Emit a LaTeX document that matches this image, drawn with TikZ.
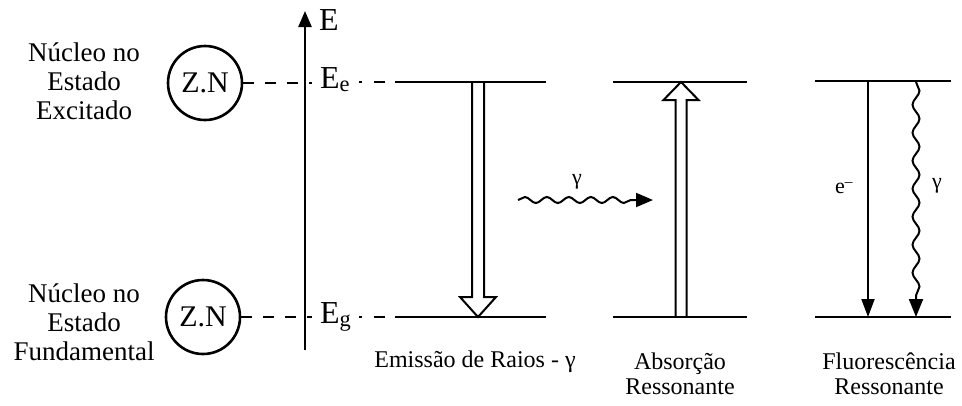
\documentclass[tikz,border=0pt]{standalone}
\usepackage{fontspec}
\setmainfont{Liberation Serif}
\usetikzlibrary{arrows.meta,decorations.pathmorphing}
\begin{document}
\begin{tikzpicture}[x=1pt,y=-1pt,
  energylevel/.style={line width=2.4pt},
  axisline/.style={line width=2.4pt},
  hollowarrow/.style={line width=2pt, line join=miter},
  nucleus/.style={circle, draw, line width=2.6pt, minimum size=74pt, inner sep=0pt, font=\fontsize{30}{30}\selectfont},
  sidelabel/.style={align=center, font=\fontsize{27}{29}\selectfont, inner sep=0pt},
  capt/.style={align=center, font=\fontsize{24}{24.5}\selectfont, inner sep=0pt},
  smalltxt/.style={font=\fontsize{22}{22}\selectfont, inner sep=0pt},
  elabel/.style={font=\fontsize{32}{32}\selectfont, inner sep=0pt, anchor=base west},
  guide/.style={line width=2pt, dash pattern=on 11pt off 11pt},
  guidetwo/.style={line width=2pt, dash pattern=on 2.5pt off 12.5pt on 11pt off 10pt},
  wavy/.style={line width=2pt, decorate, decoration={snake, amplitude=3pt, segment length=22pt, post length=15pt}},
  wavyv/.style={line width=2pt, decorate, decoration={snake, amplitude=3.5pt, segment length=28pt, post length=18pt}},
  arrowtip/.style={-{Triangle[length=17pt,width=14pt]}}
]
\useasboundingbox (0,0) rectangle (962,405);

% nuclei and side labels
\node[nucleus] (zn1) at (205,83) {Z.N};
\node[nucleus] (zn2) at (203,317) {Z.N};
\node[sidelabel] (t1) at (84,81) {Núcleo no\\Estado\\Excitado};
\node[sidelabel] (t2) at (84,322) {Núcleo no\\Estado\\Fundamental};

% energy axis
\coordinate (axb) at (305,350);
\coordinate (axt) at (305,11);
\draw[axisline, -{Triangle[length=16pt,width=13pt]}] (axb) -- (axt);
\node[elabel] (E) at (319,30) {E};
\node[elabel] (Ee) at (320,88) {E\textsubscript{e}};
\node[elabel] (Eg) at (320,323) {E\textsubscript{g}};

% dashed guides
\coordinate (ax1) at (312,83);
\coordinate (ax2) at (312,317);
\draw[guide] (zn1.east) -- (ax1);
\draw[guide] (zn2.east) -- (ax2);
\coordinate (d1) at (359,82);
\coordinate (d2) at (359,317);

% levels
\coordinate (a1) at (398,82);  \coordinate (a2) at (546,82);
\coordinate (a3) at (398,317); \coordinate (a4) at (546,317);
\coordinate (b1) at (613,82);  \coordinate (b2) at (747,82);
\coordinate (b3) at (613,317); \coordinate (b4) at (747,317);
\coordinate (c1) at (815,81);  \coordinate (c2) at (951,81);
\coordinate (c3) at (815,317); \coordinate (c4) at (951,317);
\draw[guidetwo] (d1) -- (a1);
\draw[guidetwo] (d2) -- (a3);
\draw[energylevel] (a1) -- (a2);
\draw[energylevel] (a3) -- (a4);
\draw[energylevel] (b1) -- (b2);
\draw[energylevel] (b3) -- (b4);
\draw[energylevel] (c1) -- (c2);
\draw[energylevel] (c3) -- (c4);

% emission hollow arrow
\coordinate (em) at (478,82);
\draw[hollowarrow] (em) ++(-6,0) -- ++(0,215) -- ++(-12,0) -- ++(18,20) -- ++(18,-20) -- ++(-12,0) -- ++(0,-215);

% absorption hollow arrow
\coordinate (ab) at (681,317);
\draw[hollowarrow] (ab) ++(-5.5,0) -- ++(0,-217) -- ++(-12,0) -- ++(17.5,-18) -- ++(17.5,18) -- ++(-12,0) -- ++(0,217);

% gamma photon
\coordinate (w1) at (518,200);
\coordinate (w2) at (653,200);
\draw[wavy, arrowtip] (w1) -- (w2);
\node[smalltxt] (g1) at (577,182) {γ};

% fluorescence
\coordinate (f1) at (868,82);
\coordinate (f2) at (868,317);
\draw[line width=2pt, -{Triangle[length=18pt,width=13pt]}] (f1) -- (f2);
\node[smalltxt] (el) at (844,188) {e\textsuperscript{–}};
\coordinate (v1) at (916,82);
\coordinate (v2) at (916,317);
\draw[wavyv, -{Triangle[length=18pt,width=14pt]}] (v1) -- (v2);
\node[smalltxt] (g2) at (937,186) {γ};

% captions
\node[capt] (k1) at (475,362) {Emissão de Raios - γ};
\node[capt] (k2) at (680,374) {Absorção\\Ressonante};
\node[capt] (k3) at (889,374) {Fluorescência\\Ressonante};
\end{tikzpicture}
\end{document}
